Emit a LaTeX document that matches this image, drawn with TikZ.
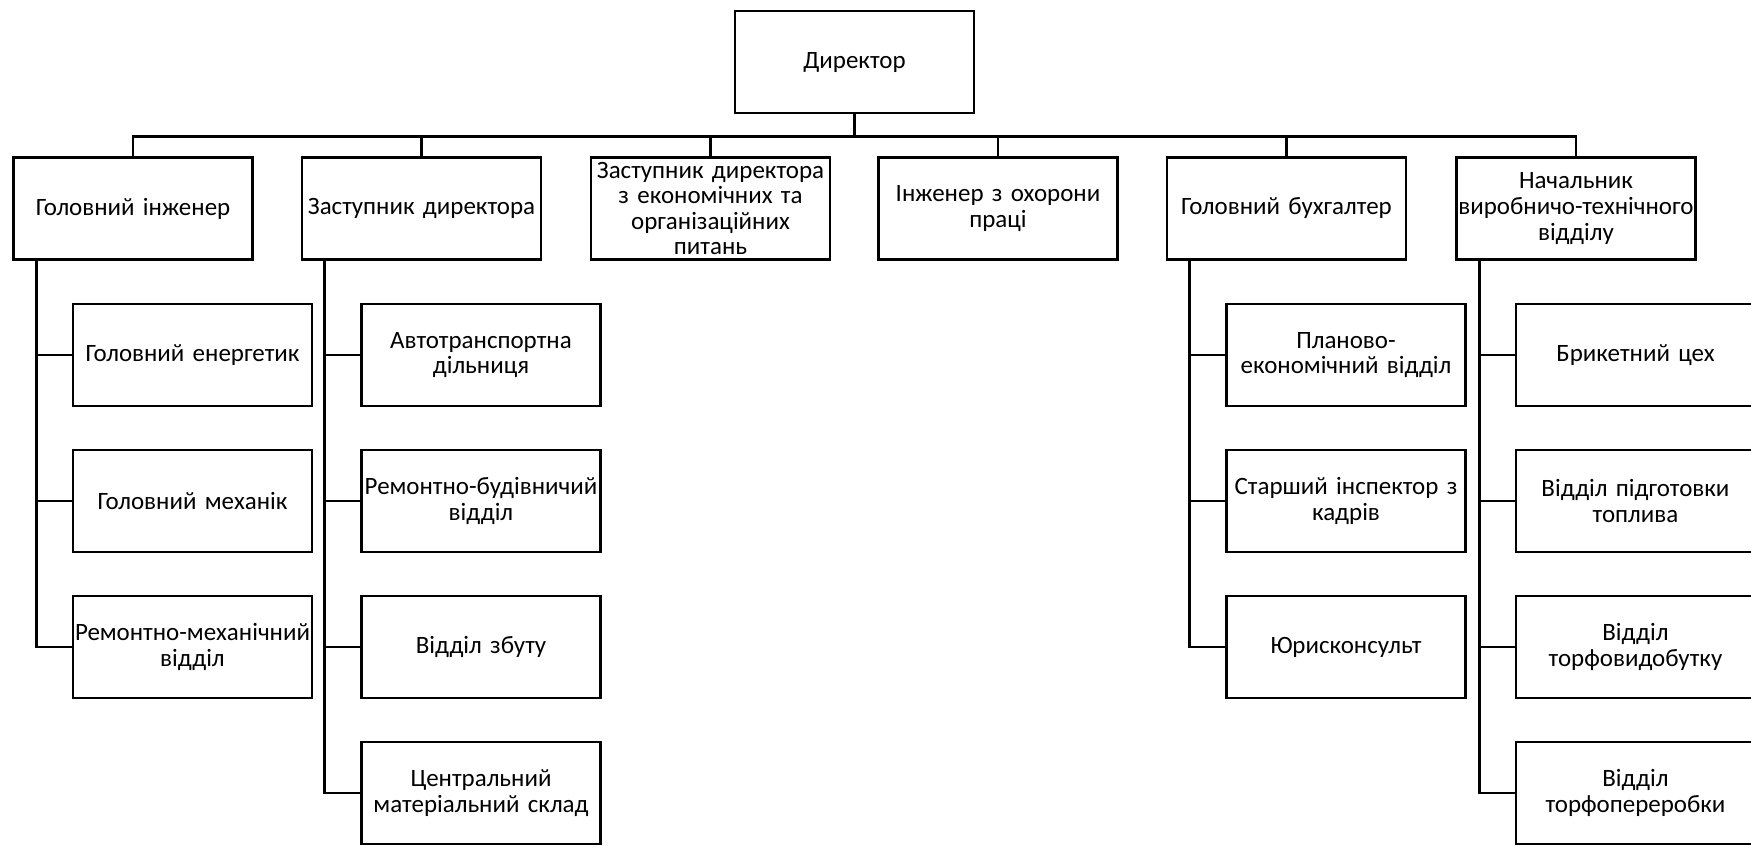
\documentclass[tikz,border=0pt]{standalone}
\usepackage{fontspec}
\setmainfont{Carlito}
\usetikzlibrary{positioning}

\begin{document}
\begin{tikzpicture}[
  bx/.style={draw,line width=0.8pt,minimum width=2.39cm,minimum height=1.02cm,
    text width=2.39cm,align=center,inner sep=0pt,
    font=\fontsize{7.1}{7.3}\selectfont},
  ln/.style={line width=0.8pt}]
  \useasboundingbox (0,0) rectangle (17.51,-8.45);
  % director
  \node[bx] (dir) at (8.545,-0.62) {Директор};
  % top row
  \node[bx] (gi) at (1.33,-2.085) {Головний інженер};
  \node[bx] (zd) at (4.215,-2.085) {Заступник директора};
  \node[bx] (ze) at (7.105,-2.085) {Заступник директора\\з економічних та\\організаційних\\питань};
  \node[bx] (io) at (9.98,-2.085) {Інженер з охорони\\праці};
  \node[bx] (gb) at (12.865,-2.085) {Головний бухгалтер};
  \node[bx] (nv) at (15.76,-2.085) {Начальник\\виробничо-технічного\\відділу};
  % children
  \node[bx] (ge) at (1.925,-3.55) {Головний енергетик};
  \node[bx] (gm) at (1.925,-5.01) {Головний механік};
  \node[bx] (rm) at (1.925,-6.47) {Ремонтно-механічний\\відділ};
  \node[bx] (at) at (4.81,-3.55) {Автотранспортна\\дільниця};
  \node[bx] (rb) at (4.81,-5.01) {Ремонтно-будівничий\\відділ};
  \node[bx] (vz) at (4.81,-6.47) {Відділ збуту};
  \node[bx] (cs) at (4.81,-7.93) {Центральний\\матеріальний склад};
  \node[bx] (pe) at (13.46,-3.55) {Планово-\\економічний відділ};
  \node[bx] (si) at (13.46,-5.01) {Старший інспектор з\\кадрів};
  \node[bx] (yu) at (13.46,-6.47) {Юрисконсульт};
  \node[bx] (bc) at (16.355,-3.55) {Брикетний цех};
  \node[bx] (vp) at (16.355,-5.01) {Відділ підготовки\\топлива};
  \node[bx] (vt) at (16.355,-6.47) {Відділ\\торфовидобутку};
  \node[bx] (vtp) at (16.355,-7.93) {Відділ\\торфопереробки};
  % bus
  \foreach \t in {gi,zd,ze,io,gb,nv}
    \draw[ln] (dir.south) -- ++(0,-0.22) -| (\t.north);
  % subordinates
  \foreach \p/\c in {gi/ge,gi/gm,gi/rm,zd/at,zd/rb,zd/vz,zd/cs,
                     gb/pe,gb/si,gb/yu,nv/bc,nv/vp,nv/vt,nv/vtp}
    \draw[ln] ([xshift=2.4mm]\p.south west) |- (\c.west);
\end{tikzpicture}
\end{document}
